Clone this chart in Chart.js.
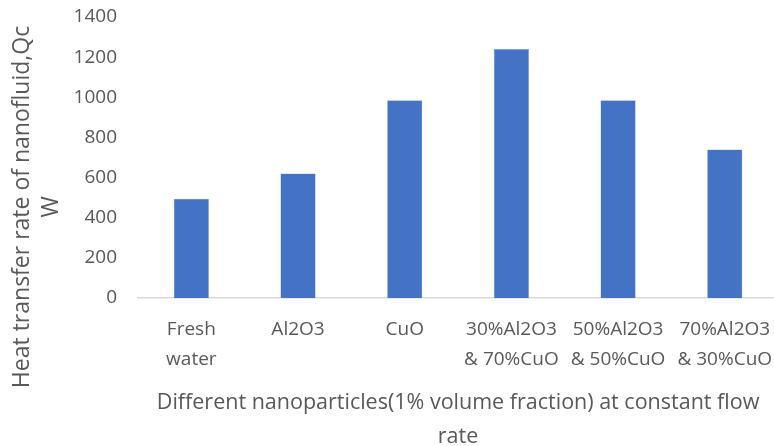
<!DOCTYPE html>
<html>
<head>
<meta charset="utf-8">
<script src="https://cdn.jsdelivr.net/npm/chart.js@4/dist/chart.umd.min.js"></script>
<style>
  html, body { margin: 0; padding: 0; background: #ffffff; overflow: hidden; }
  #wrap { width: 790px; height: 446px; }
</style>
</head>
<body>
<div id="wrap"><canvas id="c" width="790" height="446"></canvas></div>
<script>
// Nanoparticle types (two-line labels where the axis wraps them)
const categories = [
  ['Fresh', 'water'],
  'Al2O3',
  'CuO',
  ['30%Al2O3', '& 70%CuO'],
  ['50%Al2O3', '& 50%CuO'],
  ['70%Al2O3', '& 30%CuO']
];
// Heat transfer rate Qc, W
const heatTransfer = [495, 620, 985, 1240, 985, 740];
// Value axis ticks
const yTicks = [0, 200, 400, 600, 800, 1000, 1200, 1400];
// Value axis title lines
const yTitle = ['Heat transfer rate of nanofluid,Qc', 'W'];

const textColor = '#595959';
const fontFamily = '"Open Sans", sans-serif';

// Value-axis title, centred on the whole chart height rather than the plot area
const yTitlePlugin = {
  id: 'yTitle',
  afterDraw(chart) {
    const ctx = chart.ctx;
    ctx.save();
    ctx.fillStyle = textColor;
    ctx.font = '23px ' + fontFamily;
    ctx.textAlign = 'center';
    ctx.textBaseline = 'middle';
    ctx.translate(22, 207);
    ctx.rotate(-Math.PI / 2);
    yTitle.forEach((line, i) => ctx.fillText(line, 0, i * 29));
    ctx.restore();
  }
};

new Chart(document.getElementById('c'), {
  type: 'bar',
  data: {
    labels: categories,
    datasets: [{
      data: heatTransfer,
      backgroundColor: '#4472C4',
      borderColor: '#8FAADC',
      borderWidth: 0.5,
      categoryPercentage: 1,
      barPercentage: 0.33
    }]
  },
  plugins: [yTitlePlugin],
  options: {
    responsive: false,
    animation: false,
    layout: { padding: { left: 0, right: 11, top: 17, bottom: 0 } },
    plugins: { legend: { display: false }, tooltip: { enabled: false } },
    scales: {
      x: {
        afterFit: (scale) => { scale.height = 148; },
        grid: { display: true, drawOnChartArea: false, drawTicks: false },
        border: { display: true, color: '#d9d9d9', width: 1.5 },
        ticks: {
          color: textColor,
          font: { family: fontFamily, size: 19, lineHeight: 1.58 },
          padding: 17,
          maxRotation: 0,
          autoSkip: false
        },
        title: {
          display: true,
          text: ['Different nanoparticles(1% volume fraction) at constant flow', 'rate'],
          color: textColor,
          font: { family: fontFamily, size: 21.5, lineHeight: 1.6 },
          padding: { top: 4, bottom: -8 }
        }
      },
      y: {
        min: 0,
        max: 1400,
        afterBuildTicks: (scale) => { scale.ticks = yTicks.map(v => ({ value: v })); },
        afterFit: (scale) => { scale.width = 138; scale.paddingTop = 0; scale.paddingBottom = 0; },
        grid: { display: false, drawTicks: false },
        border: { display: false },
        ticks: {
          color: textColor,
          font: { family: fontFamily, size: 19 },
          padding: 21,
          callback: (v) => String(v)
        }
      }
    }
  }
});
</script>
</body>
</html>
